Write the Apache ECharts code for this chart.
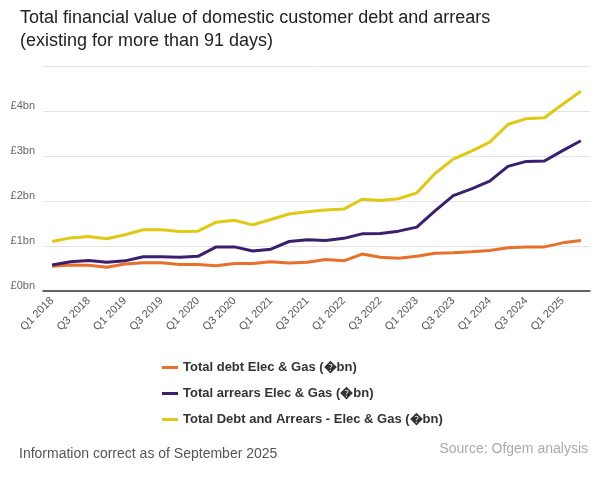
<!DOCTYPE html>
<html>
<head>
<meta charset="utf-8">
<script src="https://cdn.jsdelivr.net/npm/echarts@6/dist/echarts.min.js"></script>
<style>html,body{margin:0;padding:0;background:#fff;}#c{width:600px;height:488px;}</style>
</head>
<body>
<div id="c"></div>
<script>
var categories = ['Q1 2018','Q2 2018','Q3 2018','Q4 2018','Q1 2019','Q2 2019','Q3 2019','Q4 2019',
  'Q1 2020','Q2 2020','Q3 2020','Q4 2020','Q1 2021','Q2 2021','Q3 2021','Q4 2021',
  'Q1 2022','Q2 2022','Q3 2022','Q4 2022','Q1 2023','Q2 2023','Q3 2023','Q4 2023',
  'Q1 2024','Q2 2024','Q3 2024','Q4 2024','Q1 2025','Q2 2025'];
var debt = [0.55,0.58,0.57,0.53,0.60,0.63,0.63,0.59,0.59,0.56,0.61,0.61,0.65,0.62,0.64,0.70,0.67,0.82,0.75,0.73,0.77,0.84,0.85,0.87,0.90,0.96,0.98,0.98,1.07,1.12];
var arrears = [0.58,0.65,0.68,0.64,0.67,0.76,0.76,0.75,0.77,0.98,0.98,0.89,0.93,1.10,1.14,1.12,1.17,1.27,1.28,1.33,1.42,1.78,2.12,2.27,2.44,2.77,2.88,2.89,3.12,3.34];
var total = [1.10,1.18,1.21,1.16,1.25,1.36,1.36,1.32,1.33,1.53,1.57,1.47,1.59,1.71,1.76,1.80,1.82,2.04,2.01,2.05,2.18,2.61,2.93,3.11,3.31,3.70,3.83,3.85,4.15,4.44];
var seriesNames = ['Total debt Elec & Gas (\uFFFDbn)','Total arrears Elec & Gas (\uFFFDbn)','Total Debt and Arrears - Elec & Gas (\uFFFDbn)'];
var colors = ['#E8702A','#3B1F6E','#E0C813'];
var titleText = 'Total financial value of domestic customer debt and arrears\n(existing for more than 91 days)';
var footLeft = 'Information correct as of September 2025';
var footRight = 'Source: Ofgem analysis';

var chart = echarts.init(document.getElementById('c'), null, {renderer:'canvas'});
var font = 'Liberation Sans, Arial, sans-serif';
function mk(name, data, color){
  return {name:name, type:'line', data:data, showSymbol:false, symbol:'none', smooth:false,
    lineStyle:{width:3, color:color}, itemStyle:{color:color}, emphasis:{disabled:true}};
}
chart.setOption({
  animation:false,
  textStyle:{fontFamily:font},
  title:{text:titleText, left:15, top:2,
    textStyle:{fontSize:18, fontWeight:'normal', color:'#222', lineHeight:23, fontFamily:font}},
  grid:{left:43, right:10, top:66, bottom:197, containLabel:false},
  xAxis:{type:'category', data:categories, boundaryGap:true,
    axisLine:{lineStyle:{color:'#333', width:1.5}},
    axisTick:{show:false},
    axisLabel:{interval:1, rotate:45, fontSize:11, color:'#555', margin:8, fontFamily:font}},
  yAxis:{type:'value', min:0, max:5, interval:1,
    axisLine:{show:false}, axisTick:{show:false},
    splitLine:{lineStyle:{color:'#e3e3e3', width:1}},
    axisLabel:{fontSize:11, color:'#666', margin:8, fontFamily:font, verticalAlign:'bottom', padding:[0,0,0,0],
      formatter:function(v){return v===5?'':'\u00A3'+v+'bn';}}},
  legend:{orient:'vertical', left:157, top:356, itemGap:13, itemWidth:16, itemHeight:3, icon:'rect',
    data:seriesNames,
    textStyle:{fontSize:13, fontWeight:'bold', color:'#333', fontFamily:font}},
  series:[mk(seriesNames[0],debt,colors[0]), mk(seriesNames[1],arrears,colors[1]), mk(seriesNames[2],total,colors[2])],
  graphic:[
    {type:'text', left:19, top:447, style:{text:footLeft, fontSize:14, fill:'#555', fontFamily:font}},
    {type:'text', right:12, top:442, style:{text:footRight, fontSize:14, fill:'#aaa', fontFamily:font}}
  ]
});
</script>
</body>
</html>
